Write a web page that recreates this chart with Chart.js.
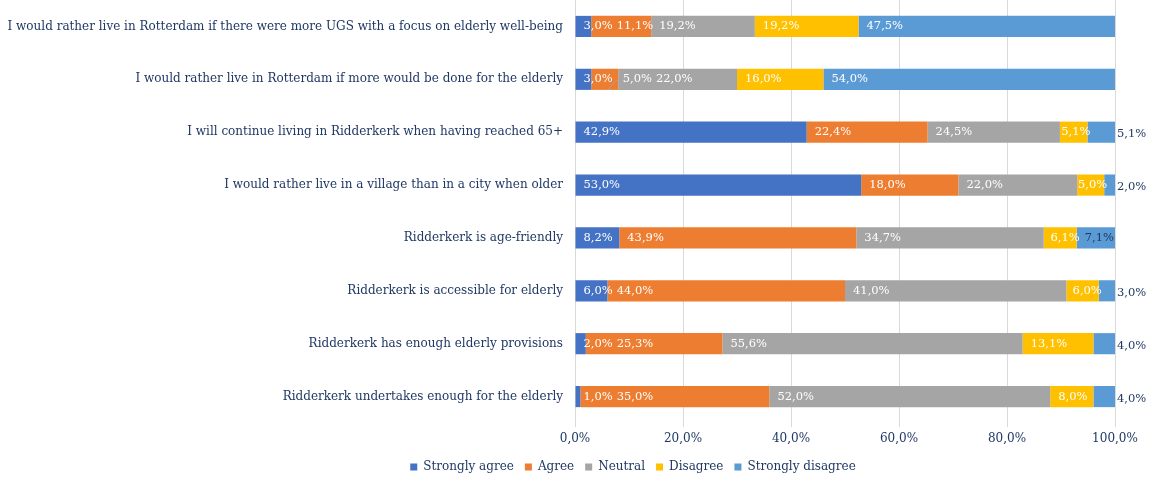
<!DOCTYPE html>
<html>
<head>
<meta charset="utf-8">
<script src="https://cdn.jsdelivr.net/npm/chart.js@4.4.1/dist/chart.umd.min.js"></script>
<style>
  html, body { margin: 0; padding: 0; background: #ffffff; }
  #wrap { position: relative; width: 1151px; height: 477px; }
</style>
</head>
<body>
<div id="wrap"><canvas id="chart" width="1151" height="477"></canvas></div>
<script>
// Survey statements (top to bottom)
const categories = [
  'I would rather live in Rotterdam if there were more UGS with a focus on elderly well-being',
  'I would rather live in Rotterdam if more would be done for the elderly',
  'I will continue living in Ridderkerk when having reached 65+',
  'I would rather live in a village than in a city when older',
  'Ridderkerk is age-friendly',
  'Ridderkerk is accessible for elderly',
  'Ridderkerk has enough elderly provisions',
  'Ridderkerk undertakes enough for the elderly'
];

// Answer shares in percent, one array per answer option
const stronglyAgree    = [3.0, 3.0, 42.9, 53.0, 8.2, 6.0, 2.0, 1.0];
const agree            = [11.1, 5.0, 22.4, 18.0, 43.9, 44.0, 25.3, 35.0];
const neutral          = [19.2, 22.0, 24.5, 22.0, 34.7, 41.0, 55.6, 52.0];
const disagree         = [19.2, 16.0, 5.1, 5.0, 6.1, 6.0, 13.1, 8.0];
const stronglyDisagree = [47.5, 54.0, 5.1, 2.0, 7.1, 3.0, 4.0, 4.0];

const seriesNames = ['Strongly agree', 'Agree', 'Neutral', 'Disagree', 'Strongly disagree'];
const xTicks = [0, 20, 40, 60, 80, 100];

const seriesColors = ['#4472C4', '#ED7D31', '#A5A5A5', '#FFC000', '#5B9BD5'];
const navy = '#1F3864';
const serif = "'DejaVu Serif', 'Liberation Serif', serif";

const fmt = v => v.toFixed(1).replace('.', ',') + '%';

// Value labels: placed near the start of each segment, pushed right to avoid
// overlapping the previous label; narrow end segments get their label outside.
const segmentLabels = {
  id: 'segmentLabels',
  afterDatasetsDraw(chart) {
    const ctx = chart.ctx;
    ctx.save();
    ctx.font = '11.5px ' + serif;
    ctx.textBaseline = 'middle';
    ctx.textAlign = 'left';
    const nData = chart.data.labels.length;
    const nSets = chart.data.datasets.length;
    for (let i = 0; i < nData; i++) {
      let prevEnd = -Infinity;
      for (let d = 0; d < nSets; d++) {
        const meta = chart.getDatasetMeta(d);
        const bar = meta.data[i];
        const value = chart.data.datasets[d].data[i];
        const start = Math.min(bar.base, bar.x);
        const end = Math.max(bar.base, bar.x);
        const txt = fmt(value);
        const w = ctx.measureText(txt).width;
        const y = bar.y;
        const isLast = d === nSets - 1;
        if (isLast && end - start < 30) {
          ctx.fillStyle = navy;
          ctx.fillText(txt, end + 2, y + 2);
          continue;
        }
        let x = start + 8;
        if (d > 0 && x + w > end) x = end - w + 3;
        x = Math.max(x, prevEnd + 4);
        if (d > 0 && x >= end - 4) {
          // label pushed off its own segment: tie it back with a leader line
          ctx.strokeStyle = '#A5A5A5';
          ctx.lineWidth = 1;
          ctx.beginPath();
          ctx.moveTo(end - 10, y + bar.height / 2 - 1);
          ctx.lineTo(end - 2, y + 1);
          ctx.lineTo(x + 1, y + 1);
          ctx.stroke();
          x += 6;
        }
        ctx.fillStyle = (isLast && value < 10) ? navy : '#ffffff';
        ctx.fillText(txt, x, y);
        prevEnd = x + w;
      }
    }
    ctx.restore();
  }
};

// Legend placement: centred under the whole figure, a little below the axis labels
const LEGEND_CENTER_X = 633;
const LEGEND_CENTER_Y = 468;
const legendPlacement = {
  id: 'legendPlacement',
  afterUpdate(chart) {
    const lg = chart.legend;
    if (!lg) return;
    const pad = lg.options.labels.padding;
    const dx = LEGEND_CENTER_X - (lg.left + lg.right) / 2;
    const dy = LEGEND_CENTER_Y - (lg.top + pad + 7);
    lg.left += dx; lg.right += dx;
    lg.top += dy; lg.bottom += dy;
  }
};

const valueSets = [stronglyAgree, agree, neutral, disagree, stronglyDisagree];

new Chart(document.getElementById('chart'), {
  type: 'bar',
  data: {
    labels: categories,
    datasets: seriesNames.map((name, k) => ({
      label: name,
      data: valueSets[k],
      backgroundColor: seriesColors[k],
      borderWidth: 0,
      categoryPercentage: 0.8,
      barPercentage: 0.5
    }))
  },
  options: {
    indexAxis: 'y',
    responsive: false,
    animation: false,
    devicePixelRatio: 1,
    layout: { padding: { top: 0, right: 36, left: 0, bottom: 0 } },
    scales: {
      x: {
        stacked: true,
        min: 0,
        max: 100,
        afterBuildTicks(scale) { scale.ticks = xTicks.map(v => ({ value: v })); },
        afterFit(scale) {
          const lgH = scale.chart.legend ? scale.chart.legend.height : 0;
          scale.height = Math.max(54 - lgH, 10);
          scale.paddingTop = 0;
        },
        grid: { color: '#D9D9D9', lineWidth: 1, tickLength: 4, drawTicks: true },
        border: { display: false },
        ticks: {
          color: navy,
          font: { family: serif, size: 12 },
          padding: 5,
          callback: v => fmt(v)
        }
      },
      y: {
        stacked: true,
        afterFit(scale) {
          scale.width = 575;
          scale.paddingTop = 0;
          scale.paddingBottom = 0;
        },
        grid: { display: false },
        border: { display: true, color: '#D9D9D9' },
        ticks: {
          color: navy,
          font: { family: serif, size: 12 },
          padding: 4,
          autoSkip: false
        }
      }
    },
    plugins: {
      legend: {
        position: 'bottom',
        labels: {
          color: navy,
          font: { family: serif, size: 12 },
          boxWidth: 7,
          boxHeight: 7,
          padding: 11
        }
      },
      tooltip: { enabled: false }
    }
  },
  plugins: [segmentLabels, legendPlacement]
});
</script>
</body>
</html>
